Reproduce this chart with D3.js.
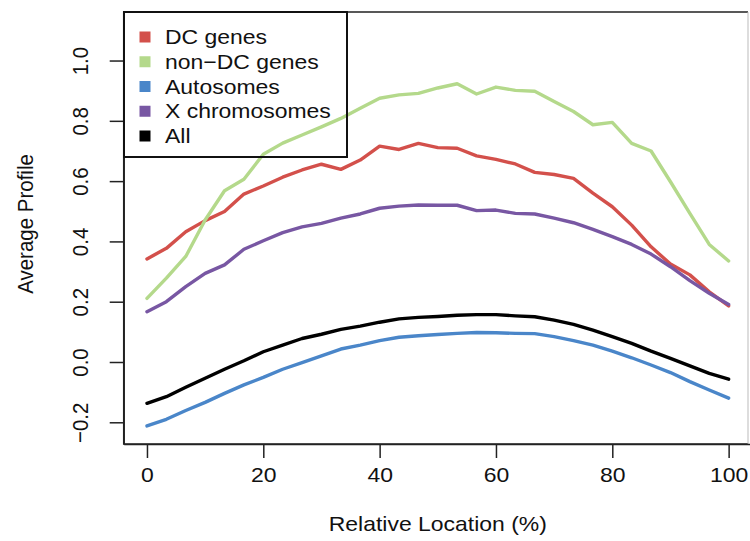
<!DOCTYPE html>
<html>
<head>
<meta charset="utf-8">
<script src="https://cdn.jsdelivr.net/npm/d3@7"></script>
<style>
  html, body { margin: 0; padding: 0; background: #fff; }
  svg { display: block; font-family: "Liberation Sans", Arial, Helvetica, sans-serif; }
</style>
</head>
<body>
<svg id="chart" width="750" height="541"></svg>
<script>
// Relative location along the gene body (%), 31 bins
const locations = d3.range(31).map(i => i * 100 / 30);

const dcGenes = [0.342, 0.377, 0.432, 0.469, 0.499, 0.557, 0.584, 0.613, 0.637, 0.656,
  0.639, 0.670, 0.716, 0.705, 0.725, 0.711, 0.709, 0.684, 0.672, 0.657,
  0.629, 0.622, 0.609, 0.560, 0.515, 0.454, 0.382, 0.325, 0.289, 0.233, 0.186];

const nonDcGenes = [0.211, 0.278, 0.350, 0.471, 0.568, 0.606, 0.689, 0.726, 0.753, 0.780,
  0.808, 0.842, 0.875, 0.886, 0.891, 0.909, 0.923, 0.889, 0.912, 0.901,
  0.898, 0.864, 0.831, 0.787, 0.795, 0.725, 0.700, 0.598, 0.493, 0.390, 0.335];

const autosomes = [-0.212, -0.190, -0.161, -0.134, -0.104, -0.076, -0.051, -0.024, -0.002, 0.020,
  0.043, 0.056, 0.071, 0.082, 0.087, 0.091, 0.095, 0.098, 0.097, 0.095,
  0.094, 0.084, 0.071, 0.056, 0.036, 0.014, -0.010, -0.035, -0.065, -0.093, -0.120];

const xChromosomes = [0.167, 0.200, 0.250, 0.294, 0.322, 0.374, 0.402, 0.429, 0.448, 0.460,
  0.477, 0.491, 0.510, 0.517, 0.521, 0.520, 0.520, 0.502, 0.504, 0.493,
  0.491, 0.477, 0.462, 0.440, 0.416, 0.390, 0.358, 0.316, 0.270, 0.228, 0.191];

const allGenes = [-0.137, -0.115, -0.084, -0.054, -0.024, 0.004, 0.034, 0.056, 0.078, 0.092,
  0.108, 0.119, 0.132, 0.143, 0.148, 0.151, 0.155, 0.157, 0.157, 0.153,
  0.150, 0.139, 0.125, 0.106, 0.084, 0.062, 0.036, 0.012, -0.013, -0.038, -0.057];

const seriesNames = ["DC genes", "non\u2212DC genes", "Autosomes", "X chromosomes", "All"];
const seriesColors = ["#d3504b", "#b4d98b", "#4a86c9", "#7857a3", "#000000"];
const seriesValues = [dcGenes, nonDcGenes, autosomes, xChromosomes, allGenes];

const xTicks = [0, 20, 40, 60, 80, 100];
const yTicks = [-0.2, 0, 0.2, 0.4, 0.6, 0.8, 1.0];

// text is set slightly wide
const FONT = 20.5;
const WIDEN = 1.12;

const svg = d3.select("#chart");

const x = d3.scaleLinear().domain([-4, 104]).range([123.7, 751.9]);
const y = d3.scaleLinear().domain([-0.272, 1.161]).range([444, 12]);

const plotLeft = 123.7, plotRight = 748, plotTop = 12, plotBottom = 444;

// data lines
const line = d3.line()
  .x((d, i) => x(locations[i]))
  .y(d => y(d));

svg.append("g")
  .selectAll("path")
  .data(seriesValues.map((v, k) => k))
  .join("path")
  .attr("d", k => line(seriesValues[k]))
  .attr("fill", "none")
  .attr("stroke", k => seriesColors[k])
  .attr("stroke-width", 3.4)
  .attr("stroke-linejoin", "round")
  .attr("stroke-linecap", "round");

// plot frame
const frame = svg.append("g").attr("fill", "none");
frame.append("path")
  .attr("d", `M${plotRight},${plotTop}H${plotLeft}V${plotBottom}H${plotRight}`)
  .attr("stroke", "#222").attr("stroke-width", 1.5);
frame.append("line")
  .attr("x1", plotRight).attr("x2", plotRight)
  .attr("y1", plotTop).attr("y2", plotBottom)
  .attr("stroke", "#bbb").attr("stroke-width", 1);

// x axis
const xAxis = svg.append("g")
  .attr("transform", `translate(0,${plotBottom})`)
  .call(d3.axisBottom(x).tickValues(xTicks).tickSize(14).tickSizeOuter(0));
xAxis.select(".domain").attr("stroke", "#222").attr("stroke-width", 1.5);
xAxis.selectAll(".tick line").attr("stroke", "#222").attr("stroke-width", 1.5);
xAxis.selectAll(".tick text")
  .attr("font-size", FONT).attr("fill", "#111")
  .attr("font-family", "Liberation Sans, Arial, sans-serif")
  .attr("y", 38).attr("dy", 0)
  .attr("transform", `scale(${WIDEN},1)`);

// y axis with rotated labels
const yAxis = svg.append("g")
  .attr("transform", `translate(${plotLeft},0)`)
  .call(d3.axisLeft(y).tickValues(yTicks).tickSize(14).tickSizeOuter(0).tickFormat(d3.format(".1f")));
yAxis.select(".domain").attr("stroke", "#222").attr("stroke-width", 1.5);
yAxis.selectAll(".tick line").attr("stroke", "#222").attr("stroke-width", 1.5);
yAxis.selectAll(".tick text")
  .attr("font-size", FONT).attr("fill", "#111")
  .attr("font-family", "Liberation Sans, Arial, sans-serif")
  .attr("x", 0).attr("y", 0).attr("dy", "0.35em")
  .attr("text-anchor", "middle")
  .attr("transform", `translate(-44,0) scale(${WIDEN},1) rotate(-90)`);

// axis titles
svg.append("text")
  .attr("transform", `translate(${x(50)},531) scale(${WIDEN},1)`)
  .attr("text-anchor", "middle")
  .attr("font-size", FONT).attr("fill", "#111")
  .text("Relative Location (%)");

svg.append("text")
  .attr("transform", `translate(25,224) scale(${WIDEN},1) rotate(-90)`)
  .attr("text-anchor", "middle")
  .attr("dy", "0.35em")
  .attr("font-size", FONT).attr("fill", "#111")
  .text("Average Profile");

// legend
const legend = svg.append("g");
legend.append("rect")
  .attr("x", 124).attr("y", 12)
  .attr("width", 223).attr("height", 145)
  .attr("fill", "none").attr("stroke", "#111").attr("stroke-width", 2);

const rows = legend.selectAll("g.row")
  .data(seriesNames.map((name, i) => ({ name, color: seriesColors[i], i })))
  .join("g")
  .attr("class", "row")
  .attr("transform", d => `translate(0,${37 + d.i * 24.75})`);

rows.append("rect")
  .attr("x", 139.5).attr("y", -5.5)
  .attr("width", 11).attr("height", 11)
  .attr("fill", d => d.color);

rows.append("text")
  .attr("transform", `translate(165,0) scale(${WIDEN},1)`)
  .attr("dy", "0.35em")
  .attr("font-size", FONT).attr("fill", "#111")
  .text(d => d.name);
</script>
</body>
</html>
